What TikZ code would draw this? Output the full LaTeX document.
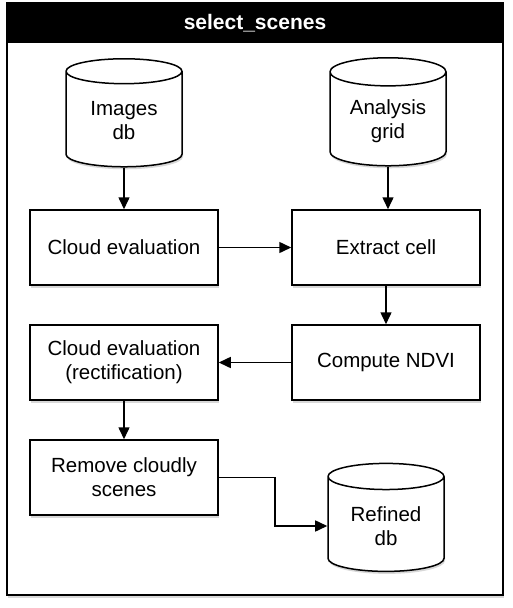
\documentclass[tikz,border=0pt]{standalone}
\usepackage{fontspec}
\setmainfont{Liberation Sans}
\usetikzlibrary{arrows.meta,shapes.geometric,shadows}

\begin{document}
\begin{tikzpicture}[x=1pt, y=-1pt, >={Triangle[length=12pt,width=11pt]}, line width=1.5pt,
  every node/.style={font=\fontsize{20.5}{24}\selectfont, align=center},
  shd/.style={drop shadow={shadow xshift=1pt,shadow yshift=-2.5pt,opacity=0.3}},
  proc/.style={rectangle,draw,fill=white,shd,minimum width=188pt,minimum height=75pt},
  db/.style={cylinder,shape border rotate=90,aspect=0.35,draw,fill=white,shd,
    minimum width=116pt,minimum height=108pt,inner sep=2pt}]
  \useasboundingbox (0,0) rectangle (512,608);
  % frame and title
  \node[draw,line width=2pt,fill=white,shd,minimum width=496pt,minimum height=592pt] (frame) at (255,299) {};
  \node[fill=black,text=white,font=\fontsize{21}{24}\bfseries,minimum width=496pt,minimum height=40pt,inner sep=0pt] (title) at (255,23) {select\_scenes};
  % data sources
  \node[db] (imgdb) at (124,121) {Images\\db};
  \node[db] (grid) at (388,121) {Analysis\\grid};
  % processing steps
  \node[proc] (cloud) at (124,247.5) {Cloud evaluation};
  \node[proc] (extract) at (386,247.5) {Extract cell};
  \node[proc] (ndvi) at (386,362.5) {Compute NDVI};
  \node[proc] (rect) at (124,362.5) {Cloud evaluation\\(rectification)};
  \node[proc] (remove) at (124,477.5) {Remove cloudly\\scenes};
  \node[db] (refined) at (386,526) {Refined\\db};
  % flow
  \draw[->] (imgdb) -- (cloud);
  \draw[->] (grid.south) -- (grid.south |- extract.north);
  \draw[->] (cloud) -- (extract);
  \draw[->] (extract) -- (ndvi);
  \draw[->] (ndvi) -- (rect);
  \draw[->] (rect) -- (remove);
  \draw[->] (remove.east) -- ++(56,0) |- (refined.west);
\end{tikzpicture}
\end{document}
